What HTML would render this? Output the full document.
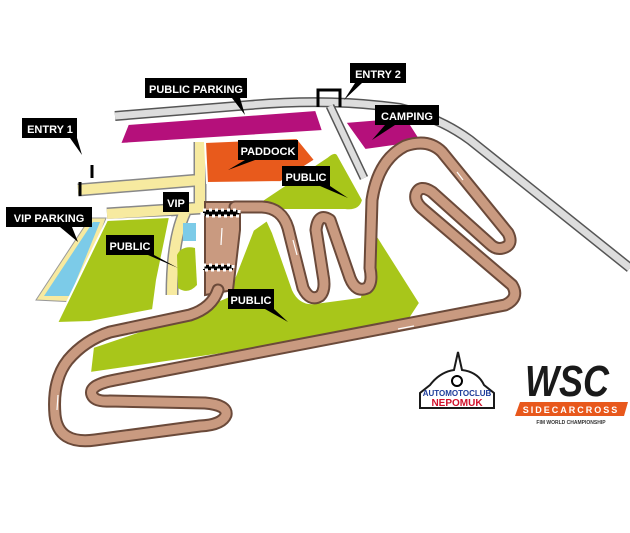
<!DOCTYPE html>
<html><head><meta charset="utf-8"><style>
html,body{margin:0;padding:0;background:#fff;}
svg{display:block;}
text{font-family:"Liberation Sans",sans-serif;font-weight:bold;}
</style></head><body>
<svg width="630" height="533" viewBox="0 0 630 533" xmlns="http://www.w3.org/2000/svg">
<!-- grey road -->
<path d="M115,116 L250,105 Q330,98 400,108 Q440,118 470,140 L630,268" fill="none" stroke="#555" stroke-width="10" stroke-linejoin="round"/>
<path d="M115,116 L250,105 Q330,98 400,108 Q440,118 470,140 L630,268" fill="none" stroke="#ddd" stroke-width="7" stroke-linejoin="round"/>
<path d="M330,106 L364,178" stroke="#555" stroke-width="9" fill="none"/>
<path d="M330,106 L364,178" stroke="#ddd" stroke-width="6" fill="none"/>
<!-- magenta -->
<polygon points="120,144 128,124 316,110 323,131" fill="#b5107b" stroke="#fff" stroke-width="2"/>
<polygon points="345,122 406,117 422,142 365,150" fill="#b5107b" stroke="#fff" stroke-width="2"/>
<!-- yellow paths -->
<path d="M78,190 L200,180 M200,142 L200,212 M200,208 L107,214 M185,212 Q172,240 172,295" fill="none" stroke="#888" stroke-width="13"/>
<path d="M78,190 L200,180 M200,142 L200,212 M200,208 L107,214 M185,212 Q172,240 172,295" fill="none" stroke="#f7eaa0" stroke-width="10"/>
<polygon points="36,300 90,218 106,218 76,302" fill="#f7eaa0" stroke="#999" stroke-width="1"/>
<polygon points="44,296 93,222 100,222 70,296" fill="#7ccbe8"/>
<!-- paddock -->
<polygon points="205,142 297,138 315,160 281,182 207,183" fill="#e85a1c" stroke="#fff" stroke-width="2"/>
<!-- greens -->
<polygon points="57,323 107,220 170,217 157,280 153,310 90,322" fill="#a8c61a" stroke="#fff" stroke-width="2"/>
<path d="M177,255 Q182,245 195,248 L197,285 Q188,295 178,288 Z" fill="#a8c61a"/>
<rect x="183" y="223" width="13" height="18" fill="#7ccbe8"/>
<path d="M258,203 L327,157 Q335,150 338,155 L363,200 Q360,212 345,210 L265,210 Z" fill="#a8c61a" stroke="#fff" stroke-width="2"/>
<path d="M93,347 L173,320 L227,297 L253,230 L267,220 L273,233 L293,290 Q300,305 315,303 L360,297 L377,235 L420,303 L407,323 L340,337 L90,373 Z" fill="#a8c61a" stroke="#fff" stroke-width="2"/>
<!-- start block -->
<polygon points="205,202 240,202 240,230 233,290 205,295" fill="#c99a80" stroke="#6b4a3a" stroke-width="2"/>
<!-- track -->
<g fill="none" stroke-linecap="round" stroke-linejoin="round">
<path d="M235,207 L262,207 Q282,208 288,228 L303,288 Q310,302 320,296 Q326,290 323,275 L316,230 Q318,212 330,220 L350,278 Q356,293 367,288 Q373,283 370,268 L372,200 Q378,160 405,146 Q428,138 442,152 L508,233 Q514,245 503,248 Q496,250 490,244 L432,192 Q420,184 416,194 Q414,202 424,210 L512,285 Q520,298 505,305 L115,380 Q88,385 92,395 Q95,402 110,401 L205,403 Q228,405 226,415 Q222,425 200,426 L95,440 Q58,445 55,415 Q52,380 68,360 Q85,340 110,332 L190,315 Q212,308 218,290" stroke="#6b4a3a" stroke-width="13"/>
<path d="M235,207 L262,207 Q282,208 288,228 L303,288 Q310,302 320,296 Q326,290 323,275 L316,230 Q318,212 330,220 L350,278 Q356,293 367,288 Q373,283 370,268 L372,200 Q378,160 405,146 Q428,138 442,152 L508,233 Q514,245 503,248 Q496,250 490,244 L432,192 Q420,184 416,194 Q414,202 424,210 L512,285 Q520,298 505,305 L115,380 Q88,385 92,395 Q95,402 110,401 L205,403 Q228,405 226,415 Q222,425 200,426 L95,440 Q58,445 55,415 Q52,380 68,360 Q85,340 110,332 L190,315 Q212,308 218,290" stroke="#c99a80" stroke-width="9"/>
</g>
<rect x="203" y="210" width="36" height="6" fill="#000"/>
<rect x="203" y="210" width="36" height="6" fill="none" stroke="#fff" stroke-dasharray="3,3" stroke-width="3"/>
<rect x="203" y="265" width="30" height="5" fill="#000"/>
<rect x="203" y="265" width="30" height="5" fill="none" stroke="#fff" stroke-dasharray="3,3" stroke-width="3"/>
<g stroke="#fff" stroke-width="1.2">
<path d="M222,228 L221,245 M58,395 L57,410 M240,367 L255,364 M398,329 L414,326 M297,255 L293,240 M463,180 L457,172"/>
</g>
<!-- gates -->
<path d="M80,196 L80,182 M92,178 L92,165 M318,107 L318,90 L340,90 L340,107" stroke="#000" stroke-width="3" fill="none"/>
<!-- labels -->
<g font-size="11" fill="#fff">
<rect x="145" y="78" width="102" height="20" fill="#000"/><text x="196" y="93" text-anchor="middle">PUBLIC PARKING</text>
<path d="M232,98 L245,115 L240,98Z" fill="#000"/>
<rect x="350" y="63" width="56" height="20" fill="#000"/><text x="378" y="78" text-anchor="middle">ENTRY 2</text>
<path d="M355,83 L344,100 L362,83Z" fill="#000"/>
<rect x="375" y="105" width="64" height="20" fill="#000"/><text x="407" y="120" text-anchor="middle">CAMPING</text>
<path d="M385,125 L372,140 L395,125Z" fill="#000"/>
<rect x="22" y="118" width="55" height="20" fill="#000"/><text x="50" y="133" text-anchor="middle">ENTRY 1</text>
<path d="M70,138 L82,155 L77,138Z" fill="#000"/>
<rect x="238" y="140" width="60" height="20" fill="#000"/><text x="268" y="155" text-anchor="middle">PADDOCK</text>
<path d="M245,160 L228,170 L255,160Z" fill="#000"/>
<rect x="282" y="166" width="48" height="20" fill="#000"/><text x="306" y="181" text-anchor="middle">PUBLIC</text>
<path d="M320,186 L348,198 L330,186Z" fill="#000"/>
<rect x="163" y="192" width="26" height="20" fill="#000"/><text x="176" y="207" text-anchor="middle">VIP</text>
<rect x="6" y="207" width="86" height="20" fill="#000"/><text x="49" y="222" text-anchor="middle">VIP PARKING</text>
<path d="M60,227 L78,242 L72,227Z" fill="#000"/>
<rect x="106" y="235" width="48" height="20" fill="#000"/><text x="130" y="250" text-anchor="middle">PUBLIC</text>
<path d="M148,255 L178,268 L154,255Z" fill="#000"/>
<rect x="228" y="289" width="46" height="20" fill="#000"/><text x="251" y="304" text-anchor="middle">PUBLIC</text>
<path d="M265,309 L288,322 L274,309Z" fill="#000"/>
</g>
<!-- logos -->
<path d="M458,352 L462,370 Q478,372 484,385 L494,393 L494,408 L420,408 L420,393 L430,385 Q440,372 454,370 Z" fill="#fff" stroke="#1a1a1a" stroke-width="2"/>
<circle cx="457" cy="381" r="5" fill="none" stroke="#000" stroke-width="2"/>
<text x="457" y="396" font-size="8" fill="#1e3d9a" text-anchor="middle">AUTOMOTOCLUB</text>
<text x="457" y="406" font-size="10" fill="#d0102a" text-anchor="middle">NEPOMUK</text>
<text x="567" y="396" font-size="44" fill="#1a1a1a" text-anchor="middle" font-style="italic" textLength="84" lengthAdjust="spacingAndGlyphs">WSC</text>
<polygon points="520,402 628,402 624,416 515,416" fill="#e8581c"/>
<text x="571" y="413" font-size="9" fill="#fff" text-anchor="middle" letter-spacing="2">SIDECARCROSS</text>
<text x="571" y="424" font-size="5" fill="#333" text-anchor="middle">FIM WORLD CHAMPIONSHIP</text>
</svg>
</body></html>
